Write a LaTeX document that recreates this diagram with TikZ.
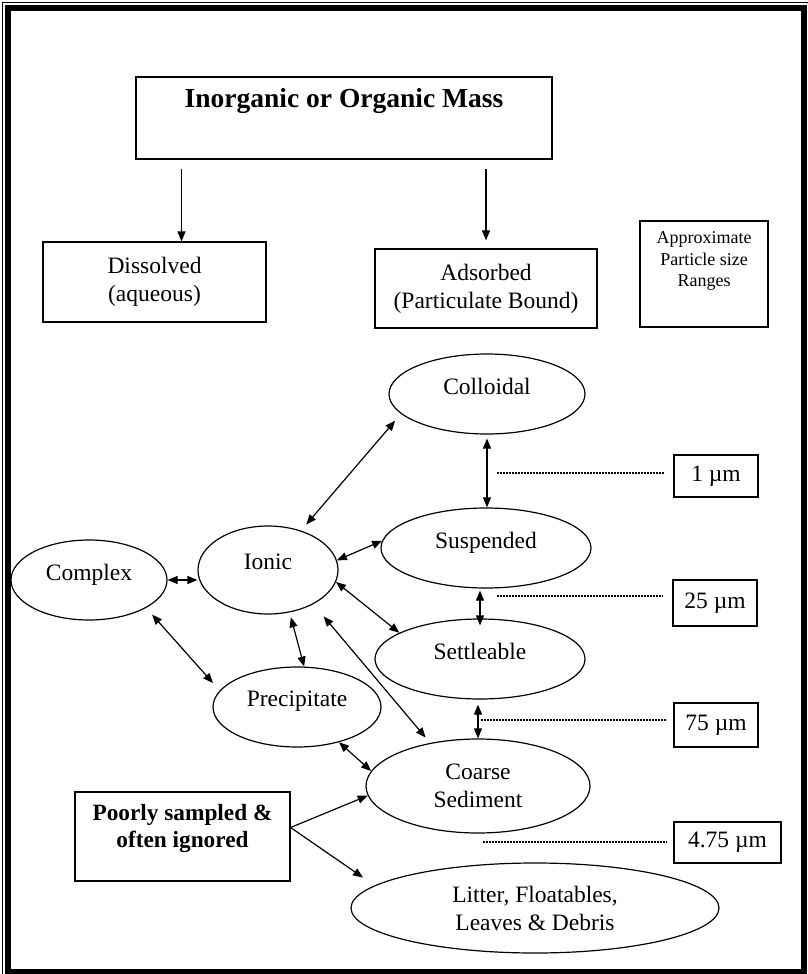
\documentclass[tikz,border=0pt]{standalone}
\usepackage{fontspec}
\setmainfont{Liberation Serif}
\usetikzlibrary{arrows.meta,shapes.geometric,calc}

\tikzset{
    box/.style={draw,line width=1.2pt,inner sep=0pt,align=center,font=\fontsize{23.5}{28}\selectfont},
    ell/.style={draw,ellipse,line width=1.2pt,inner sep=0pt,font=\fontsize{23.5}{28}\selectfont},
    oneline/.style={text depth=16pt},
    arr/.style={line width=1.2pt,{Triangle[length=10pt,width=8pt]}-{Triangle[length=10pt,width=8pt]}},
    sarr/.style={line width=1.2pt,-{Triangle[length=10pt,width=8pt]}},
    dotline/.style={line width=2pt,dash pattern=on 1.5pt off 1.5pt}
}

\begin{document}
\begin{tikzpicture}[x=1pt,y=-1pt]
        \useasboundingbox (0,0) rectangle (807,974);
        \fill[white] (0,0) rectangle (807,974);

        % Page frame
        \draw[line width=0.9pt] (2.5,2.5) rectangle (815,985);
        \draw[line width=6pt] (8,8) rectangle (804,971.5);

        % Top boxes
        \node[box,minimum width=416pt,minimum height=82pt,
              label={[font=\fontsize{27.5}{32}\selectfont\bfseries,yshift=17pt]center:Inorganic or Organic Mass}] (title) at (344,118) {};
        \node[box,minimum width=223pt,minimum height=80pt] (dissolved) at (154.5,282) {Dissolved\\(aqueous)};
        \node[box,minimum width=222pt,minimum height=79pt] (adsorbed) at (486,288.5) {Adsorbed\\(Particulate Bound)};
        \node[box,minimum width=128pt,minimum height=106pt,
              label={[font=\fontsize{18}{21.5}\selectfont,align=center,yshift=13pt]center:Approximate\\Particle size\\Ranges}] (approx) at (704,274) {};

        % Arrows from the top box
        \coordinate (dtop) at ([xshift=27pt]dissolved.north);
        \draw[sarr,shorten <=9pt] (title.south -| dtop) -- (dtop);
        \draw[sarr,shorten <=9pt,shorten >=8pt] (title.south -| adsorbed.north) -- (adsorbed.north);

        % Particle forms
        \node[ell,oneline,minimum width=196pt,minimum height=80pt] (colloidal) at (487,394) {Colloidal};
        \node[ell,oneline,minimum width=210pt,minimum height=80pt] (suspended) at (486,548) {Suspended};
        \node[ell,oneline,minimum width=140pt,minimum height=88pt] (ionic) at (268,570) {Ionic};
        \node[ell,oneline,minimum width=156pt,minimum height=80pt] (complex) at (89,580) {Complex};
        \node[ell,oneline,minimum width=210pt,minimum height=80pt] (settleable) at (480,659) {Settleable};
        \node[ell,oneline,minimum width=168pt,minimum height=80pt] (precip) at (297,707) {Precipitate};
        \node[ell,align=center,minimum width=224pt,minimum height=94pt] (coarse) at (478,786) {Coarse\\Sediment};
        \node[ell,align=center,minimum width=368pt,minimum height=90pt] (litter) at (535,908) {Litter, Floatables,\\Leaves \& Debris};

        \node[box,minimum width=215pt,minimum height=89pt,
              label={[font=\fontsize{23.3}{27}\selectfont\bfseries,align=center,yshift=8pt]center:Poorly sampled \&\\often ignored}] (poorly) at (182.5,836.5) {};

        % Size ranges
        \node[box,minimum width=84pt,minimum height=42pt] (um1) at (716,476) {1 µm};
        \node[box,minimum width=84pt,minimum height=46pt] (um25) at (715,603) {25 µm};
        \node[box,minimum width=84pt,minimum height=44pt] (um75) at (716,725) {75 µm};
        \node[box,minimum width=107pt,minimum height=41pt] (um475) at (727.5,842.5) {4.75 µm};

        % Arcs between the forms
        \draw[arr,shorten <=8pt,shorten >=9pt] (ionic.50) -- (colloidal.193);
        \draw[arr,shorten <=4pt] (colloidal.south) -- (colloidal.south |- suspended.north);
        \draw[arr] (complex.east) -- (complex.east -| ionic.west);
        \draw[arr] (ionic.8) -- (suspended.176);
        \draw[arr] (ionic.-10) -- (settleable.162);
        \draw[arr,shorten <=2pt,shorten >=-7pt] (settleable.north |- suspended.south) -- (settleable.north);
        \draw[arr,shorten <=9pt,shorten >=10pt] (complex.-26) -- (precip.168);
        \draw[arr,shorten <=5pt] (ionic.-63) -- (precip.80);
        \draw[arr,shorten <=16pt,shorten >=7pt] (ionic.-37) -- (coarse.138);
        \draw[arr,shorten <=5pt] (coarse.north |- settleable.south) -- (coarse.north);
        \draw[arr] (precip.-40) -- (coarse.172);
        \draw[sarr] ([yshift=9pt]poorly.east) -- (coarse.185);
        \draw[sarr,shorten >=14pt] ([yshift=9pt]poorly.east) -- (litter.172);

        % Dotted size marks
        \coordinate (d1) at (497,473);
        \coordinate (d25) at (497,596);
        \coordinate (d75) at (481,720);
        \coordinate (d475) at (483,842);
        \draw[dotline,shorten >=9pt] (d1) -- (d1 -| um1.west);
        \draw[dotline,shorten >=9pt] (d25) -- (d25 -| um25.west);
        \draw[dotline,shorten >=7pt] (d75) -- (d75 -| um75.west);
        \draw[dotline,shorten >=7pt] (d475) -- (d475 -| um475.west);
\end{tikzpicture}
\end{document}
